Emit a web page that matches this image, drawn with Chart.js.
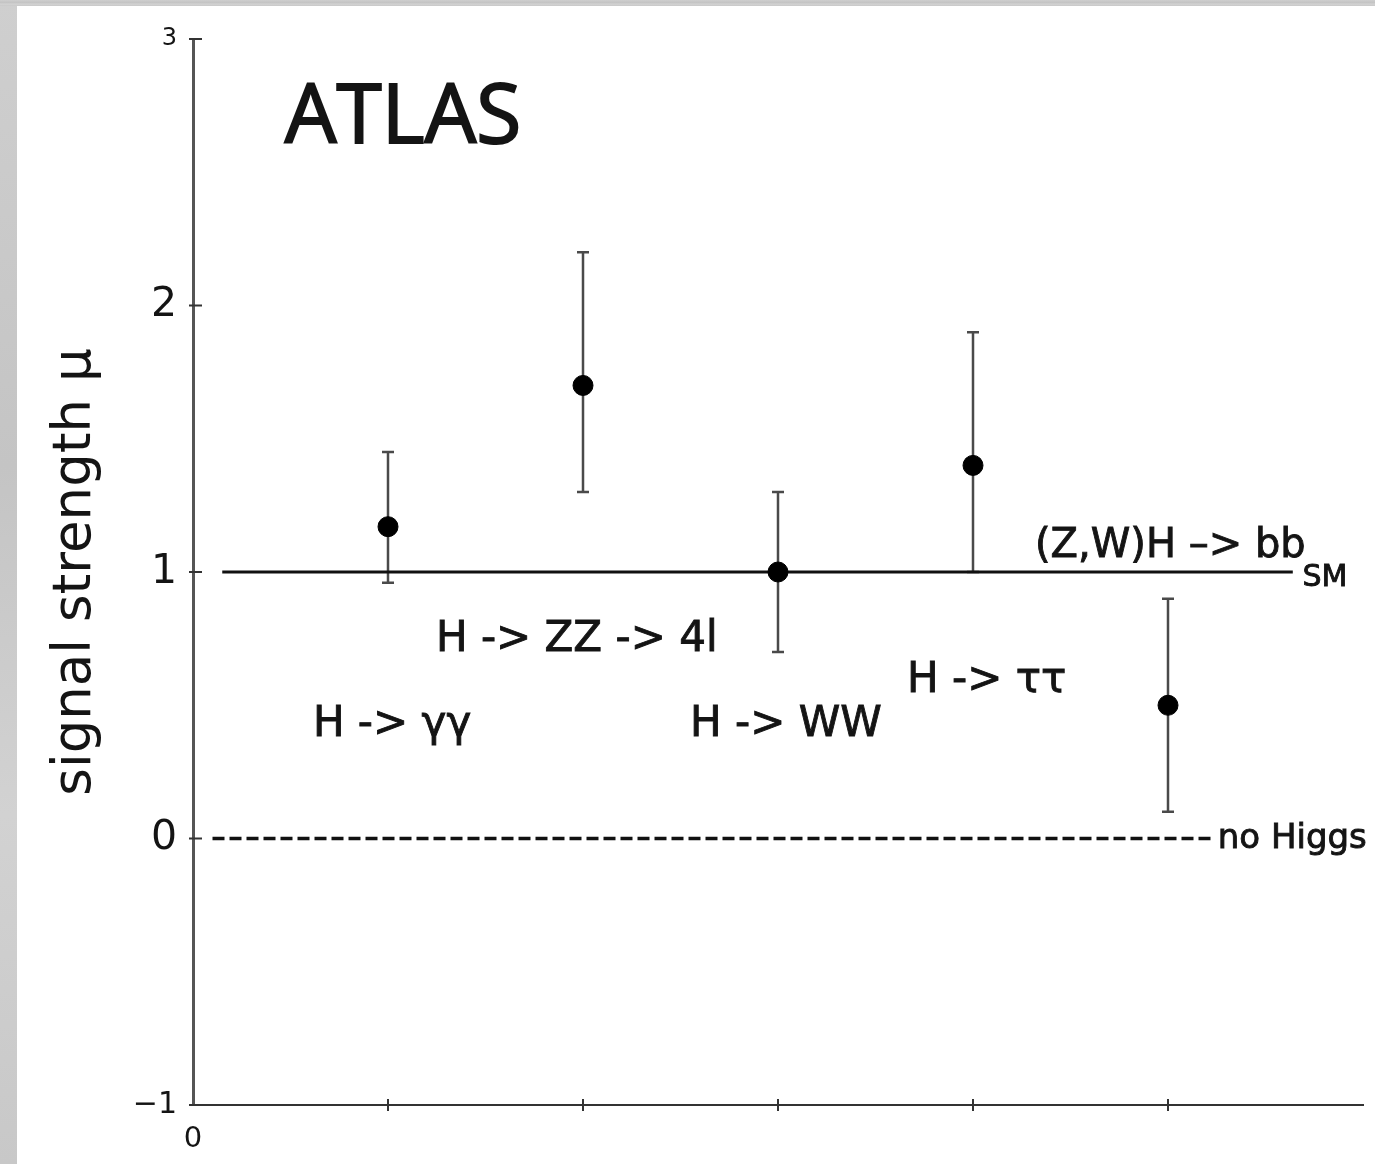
<!DOCTYPE html>
<html>
<head>
<meta charset="utf-8">
<script src="https://cdn.jsdelivr.net/npm/chart.js@4/dist/chart.umd.min.js"></script>
<style>
  html, body { margin: 0; padding: 0; background: #fff; }
  #moldura { position: relative; width: 1375px; height: 1164px; overflow: hidden; }
  .faixa { position: absolute; background: linear-gradient(#cfcfcf, #c4c4c4 40%, #d2d2d2 70%, #c8c8c8); }
  #faixa-esq { left: 0; top: 0; width: 17px; height: 1164px; }
  #faixa-topo { left: 0; top: 0; width: 1375px; height: 6px; }
  canvas { position: absolute; left: 0; top: 0; }
</style>
</head>
<body>
<div id="moldura">
  <div class="faixa" id="faixa-esq"></div>
  <div class="faixa" id="faixa-topo"></div>
  <canvas id="grafico" width="1375" height="1164"></canvas>
</div>
<script>
// Canais de decaimento do Higgs (ATLAS) e força do sinal medida
const canais = ["H -> γγ", "H -> ZZ -> 4l", "H -> WW", "H -> ττ", "(Z,W)H –> bb"];
const posicaoX = [1, 2, 3, 4, 5];
const mu = [1.17, 1.70, 1.00, 1.40, 0.50];
const muMin = [0.96, 1.30, 0.70, 1.00, 0.10];
const muMax = [1.45, 2.20, 1.30, 1.90, 0.90];

// linhas de referência
const linhaSM = [{ x: 0.15, y: 1 }, { x: 5.64, y: 1 }];
const linhaSemHiggs = [{ x: 0.10, y: 0 }, { x: 5.22, y: 0 }];

const ticksY = [-1, 0, 1, 2, 3];

const FONTE = "'DejaVu Sans', sans-serif";
const COR_TEXTO = "#141414";

// onde cada texto fica, em coordenadas dos eixos
const rotulos = [
  { texto: "ATLAS", x: 0.47, y: 2.61, tam: 82, fonte: "'Open Sans', sans-serif", contorno: 2 },
  { texto: canais[0], x: 0.615, y: 0.386, tam: 42 },
  { texto: canais[1], x: 1.246, y: 0.705, tam: 42 },
  { texto: canais[2], x: 2.549, y: 0.386, tam: 42 },
  { texto: canais[3], x: 3.662, y: 0.548, tam: 42 },
  { texto: canais[4], x: 4.318, y: 1.058, tam: 40 },
  { texto: "SM", x: 5.69, y: 0.949, tam: 30 },
  { texto: "no Higgs", x: 5.255, y: -0.037, tam: 34 }
];

const pluginBarrasErro = {
  id: "barrasErro",
  beforeDatasetsDraw(chart) {
    const { ctx, scales: { x, y } } = chart;
    ctx.save();
    ctx.strokeStyle = "#4a4a4a";
    ctx.lineWidth = 2.5;
    posicaoX.forEach((px, i) => {
      const cx = x.getPixelForValue(px);
      const yTopo = y.getPixelForValue(muMax[i]);
      const yBase = y.getPixelForValue(muMin[i]);
      ctx.beginPath();
      ctx.moveTo(cx, yTopo); ctx.lineTo(cx, yBase);
      ctx.moveTo(cx - 6, yTopo); ctx.lineTo(cx + 6, yTopo);
      ctx.moveTo(cx - 6, yBase); ctx.lineTo(cx + 6, yBase);
      ctx.stroke();
    });
    ctx.restore();
  }
};

// marcas dos eixos cruzando a linha, como no original
const pluginMarcas = {
  id: "marcas",
  afterDraw(chart) {
    const { ctx, scales: { x, y } } = chart;
    ctx.save();
    ctx.strokeStyle = "#333";
    ctx.lineWidth = 2;
    const baseY = y.getPixelForValue(-1);
    posicaoX.forEach(v => {
      const px = x.getPixelForValue(v);
      ctx.beginPath();
      ctx.moveTo(px, baseY - 6); ctx.lineTo(px, baseY + 6);
      ctx.stroke();
    });
    const eixoX = x.getPixelForValue(0);
    ticksY.forEach(v => {
      const py = y.getPixelForValue(v);
      ctx.beginPath();
      ctx.moveTo(eixoX - 4, py); ctx.lineTo(eixoX + 9, py);
      ctx.stroke();
    });
    ctx.restore();
  }
};

const pluginRotulos = {
  id: "rotulos",
  afterDraw(chart) {
    const { ctx, scales: { x, y } } = chart;
    ctx.save();
    ctx.fillStyle = COR_TEXTO;
    ctx.strokeStyle = COR_TEXTO;
    ctx.textAlign = "left";
    ctx.textBaseline = "alphabetic";
    rotulos.forEach(r => {
      ctx.font = `${r.tam}px ${r.fonte || FONTE}`;
      ctx.lineWidth = r.contorno || 0.9;
      const px = x.getPixelForValue(r.x);
      const py = y.getPixelForValue(r.y);
      ctx.fillText(r.texto, px, py);
      ctx.strokeText(r.texto, px, py);
    });
    ctx.restore();
  }
};

function tamanhoTickY(valor) {
  if (valor === 3) return 24;
  if (valor === -1) return 30;
  return 41;
}

new Chart(document.getElementById("grafico"), {
  type: "scatter",
  data: {
    datasets: [
      {
        data: posicaoX.map((px, i) => ({ x: px, y: mu[i] })),
        backgroundColor: "#000",
        borderColor: "#000",
        pointRadius: 10,
        pointHoverRadius: 10
      },
      {
        data: linhaSM,
        showLine: true,
        borderColor: "#111",
        borderWidth: 3,
        pointRadius: 0
      },
      {
        data: linhaSemHiggs,
        showLine: true,
        borderColor: "#111",
        borderWidth: 3.5,
        borderDash: [12, 5],
        pointRadius: 0
      }
    ]
  },
  options: {
    responsive: false,
    animation: false,
    devicePixelRatio: 1,
    layout: { padding: { top: 39, right: 12, left: 0, bottom: 0 } },
    plugins: { legend: { display: false }, tooltip: { enabled: false } },
    scales: {
      x: {
        type: "linear",
        min: 0,
        max: 6,
        grid: { display: false, drawTicks: false },
        border: { color: "#333", width: 2 },
        ticks: {
          stepSize: 1,
          padding: 17,
          color: COR_TEXTO,
          font: { family: FONTE, size: 29 },
          callback: v => (v === 0 ? "0" : "")
        },
        afterFit: escala => {
          escala.height = 59;
          escala.paddingRight = 0;
        }
      },
      y: {
        min: -1,
        max: 3,
        grid: { display: false, drawTicks: false },
        border: { color: "#555", width: 3 },
        ticks: {
          stepSize: 1,
          padding: 16,
          color: COR_TEXTO,
          font: ctx => ({ family: FONTE, size: tamanhoTickY(ctx.tick ? ctx.tick.value : 0) }),
          callback: v => (v === -1 ? "−1" : String(v))
        },
        title: {
          display: true,
          text: "signal strength μ",
          color: COR_TEXTO,
          font: { family: FONTE, size: 53 },
          padding: { top: 44, bottom: 0 }
        },
        afterFit: escala => { escala.width = 193; }
      }
    }
  },
  plugins: [pluginBarrasErro, pluginMarcas, pluginRotulos]
});
</script>
</body>
</html>
